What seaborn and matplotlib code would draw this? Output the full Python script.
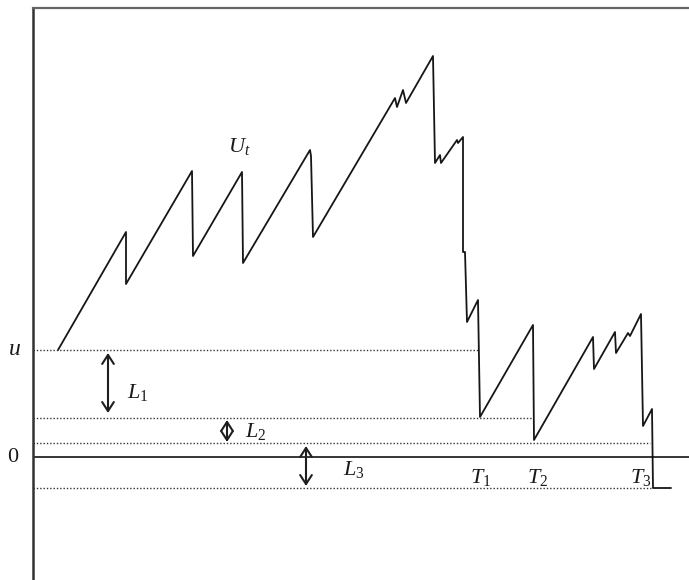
import matplotlib
matplotlib.use("Agg")
import matplotlib.pyplot as plt
import seaborn as sns
import pandas as pd

# Sample path of the surplus process U_t (time, surplus), jumps drawn as vertical steps
path_t = [0, 68, 68, 134, 135, 184, 185, 252, 253, 255, 337, 339, 345, 348, 375, 377,
          382, 383, 399, 400, 405, 405, 407, 409, 420, 422, 475, 476, 535, 536, 557,
          558, 570, 572, 583, 585, 594, 595, 613]
path_u = [107, 225, 173, 286, 201, 285, 194, 307, 301, 220, 359, 350, 367, 354, 401, 294,
          302, 294, 317, 314, 320, 205, 205, 135, 157, 40, 132, 17, 120, 88, 125,
          104, 124, 121, 143, 31, 48, -31, -31]

# Reference levels: initial capital u, successive record lows, and the final low
u_level = 107
low_levels = [39, 14, -31]
level_ends = [420, 475, 592, 595]   # where each dotted guide stops

# Ladder heights L1, L2, L3 (arrow tops and bottoms)
ladder_x = [50, 169, 248]
ladder_top = [104, 37, 11]
ladder_bottom = [44, 15, -29]

sns.set_style("white")
plt.rcParams["mathtext.fontset"] = "custom"
plt.rcParams["mathtext.rm"] = "Liberation Serif"
plt.rcParams["mathtext.it"] = "Liberation Serif:italic"
plt.rcParams["font.family"] = ["Liberation Serif", "DejaVu Serif"]

fig = plt.figure(figsize=(6.89, 5.80), dpi=100)
ax = fig.add_axes([33 / 689, 0, 656 / 689, 572 / 580])

df = pd.DataFrame({"t": path_t, "U": path_u})
sns.lineplot(data=df, x="t", y="U", sort=False, estimator=None, color="#161616",
             lw=1.3, ax=ax)

ax.set_xlim(-25, 631)
ax.set_ylim(-123, 449)

# zero line
ax.axhline(0, color="black", lw=1.1)

# dotted guide lines
dot = dict(color="#333333", lw=1.0, linestyle=(0, (1, 1.4)))
levels = [u_level] + low_levels
for lev, end in zip(levels, level_ends):
    ax.plot([-25, end], [lev, lev], **dot)

# ladder-height arrows
for x, top, bot in zip(ladder_x, ladder_top, ladder_bottom):
    ax.annotate("", xy=(x, top), xytext=(x, bot),
                arrowprops=dict(arrowstyle="<->,head_length=0.65,head_width=0.42",
                                lw=1.5, color="#1e1e1e", shrinkA=0, shrinkB=0))

txt = dict(color="#1a1a1a", va="baseline", ha="left")
ax.text(-50, 102, r"$u$", fontsize=17, clip_on=False, **txt)
ax.text(-51, -5, "0", fontsize=16, clip_on=False, **txt)
ax.text(170, 305, r"$U_{t}$", fontsize=16, **txt)
ax.text(69, 59, r"$L_{\mathrm{1}}$", fontsize=16, **txt)
ax.text(187, 20, r"$L_{\mathrm{2}}$", fontsize=16, **txt)
ax.text(285, -18, r"$L_{\mathrm{3}}$", fontsize=16, **txt)
ax.text(412, -26, r"$T_{\mathrm{1}}$", fontsize=16, **txt)
ax.text(469, -26, r"$T_{\mathrm{2}}$", fontsize=16, **txt)
ax.text(572, -26, r"$T_{\mathrm{3}}$", fontsize=16, **txt)

ax.set_xlabel("")
ax.set_ylabel("")
ax.set_xticks([])
ax.set_yticks([])
for side in ["right", "bottom"]:
    ax.spines[side].set_visible(False)
ax.spines["left"].set_color("#333333")
ax.spines["left"].set_linewidth(1.8)
ax.spines["top"].set_color("#666666")
ax.spines["top"].set_linewidth(1.6)

fig.savefig("out.png", dpi=100)
